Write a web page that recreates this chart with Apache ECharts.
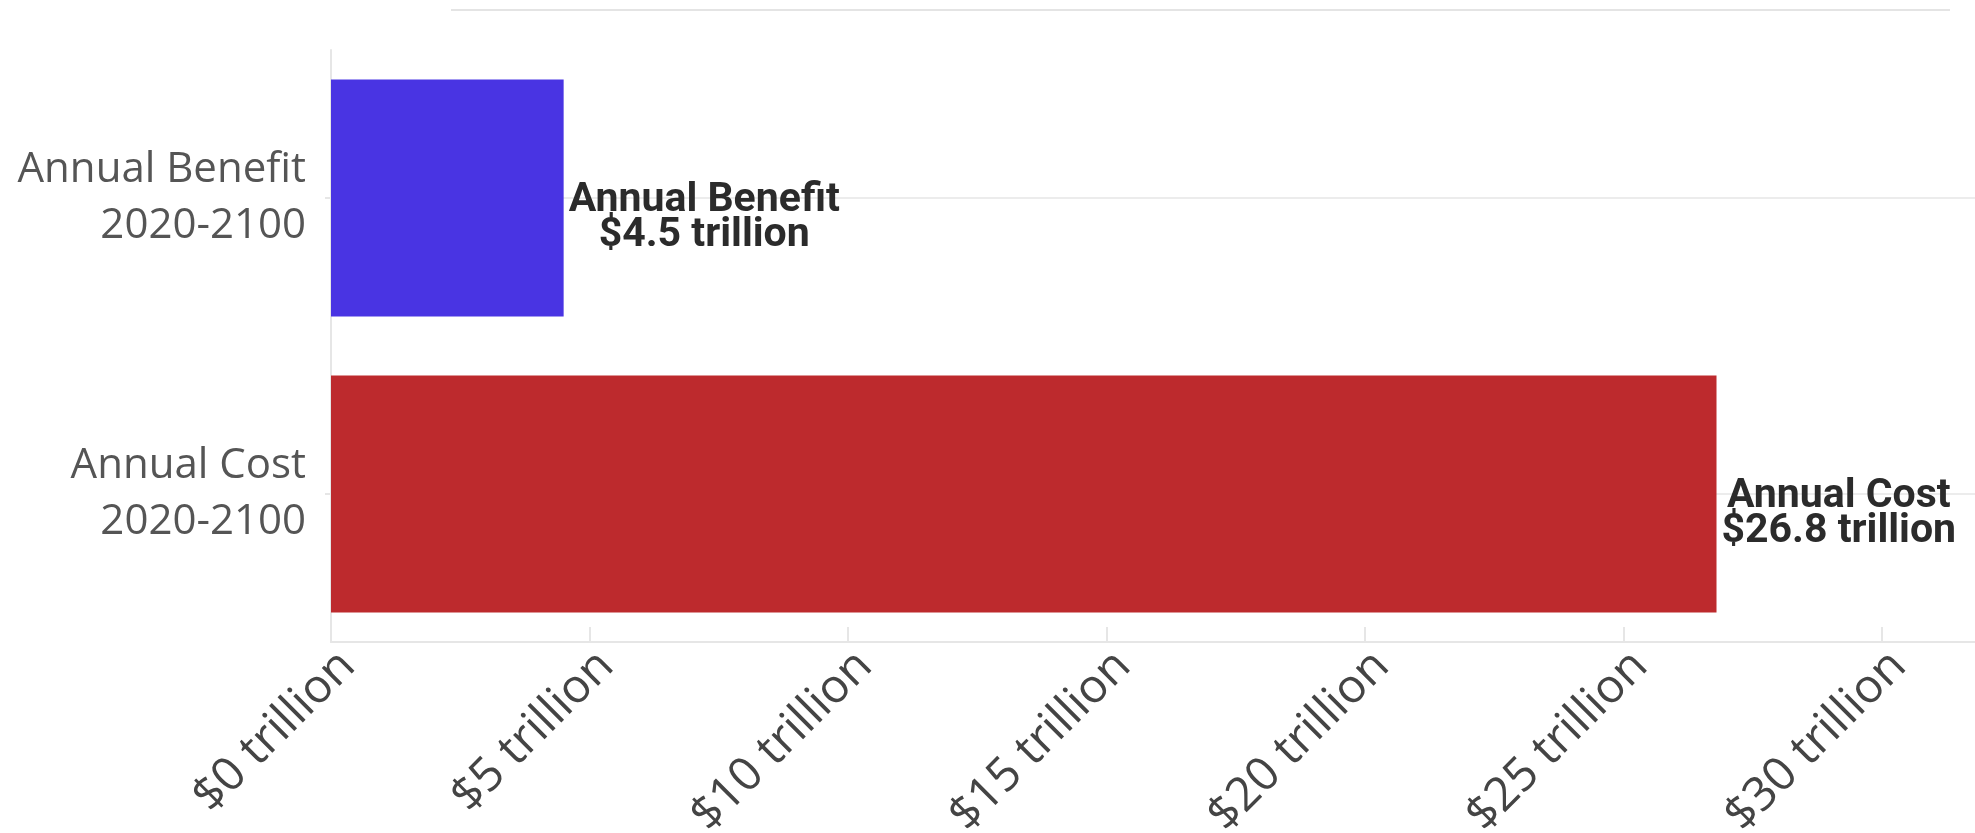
<!DOCTYPE html>
<html><head><meta charset="utf-8">
<script src="https://cdn.jsdelivr.net/npm/echarts@6/dist/echarts.min.js"></script>
<style>html,body{margin:0;padding:0;background:#fff}#c{width:1975px;height:833px}</style>
</head><body><div id="c"></div>
<script>
const categories = ['Annual Benefit\n2020-2100', 'Annual Cost\n2020-2100'];
const barNames = ['Annual Benefit', 'Annual Cost'];
const values = [4.5, 26.8];
const barColors = ['#4934e3', '#bd2a2d'];
const xMin = 0, xMax = 31.8, xStep = 5;

const chart = echarts.init(document.getElementById('c'), null, {renderer: 'canvas'});
chart.setOption({
  animation: false,
  backgroundColor: '#ffffff',
  grid: {left: 331, right: 0, top: 50, bottom: 191, containLabel: false, outerBoundsMode: 'none'},
  graphic: [{
    type: 'line', silent: true,
    shape: {x1: 451, y1: 10, x2: 1950, y2: 10},
    style: {stroke: '#e4e4e4', lineWidth: 2}
  }],
  xAxis: {
    type: 'value', min: xMin, max: xMax, interval: xStep,
    axisLine: {show: true, lineStyle: {color: '#e6e6e6', width: 2}},
    axisTick: {show: true, inside: true, length: 15, lineStyle: {color: '#e6e6e6', width: 2}},
    splitLine: {show: false},
    axisLabel: {
      rotate: 45, margin: 0, verticalAlign: 'top',
      fontFamily: 'Open Sans', fontSize: 47, color: '#444',
      showMaxLabel: false,
      formatter: v => (v % xStep === 0 ? '$' + v + ' trillion' : '')
    }
  },
  yAxis: {
    type: 'category', inverse: true, data: categories,
    axisLine: {show: true, lineStyle: {color: '#e6e6e6', width: 2}},
    axisTick: {show: true, alignWithLabel: true, length: 6, lineStyle: {color: '#e6e6e6', width: 2}},
    splitLine: {show: false},
    axisLabel: {margin: 25, fontFamily: 'Open Sans', fontSize: 42, lineHeight: 56, color: '#555', align: 'right'}
  },
  series: [{
    type: 'bar',
    barCategoryGap: '20%',
    data: values.map((v, i) => ({value: v, itemStyle: {color: barColors[i]}})),
    label: {
      show: true, position: 'right', distance: 5, offset: [0, 20],
      formatter: p => '{c|' + barNames[p.dataIndex] + '}\n{c|$' + p.value + ' trillion}',
      rich: {c: {align: 'center', fontFamily: 'Roboto', fontWeight: 'bold', fontSize: 41, lineHeight: 35, color: '#2b2b2b'}}
    },
    markLine: {
      silent: true, z: 1, symbol: ['none', 'none'],
      label: {show: false},
      lineStyle: {color: '#ececec', width: 2, type: 'solid'},
      emphasis: {disabled: true},
      data: categories.map(c => ({yAxis: c}))
    }
  }]
});
</script></body></html>
